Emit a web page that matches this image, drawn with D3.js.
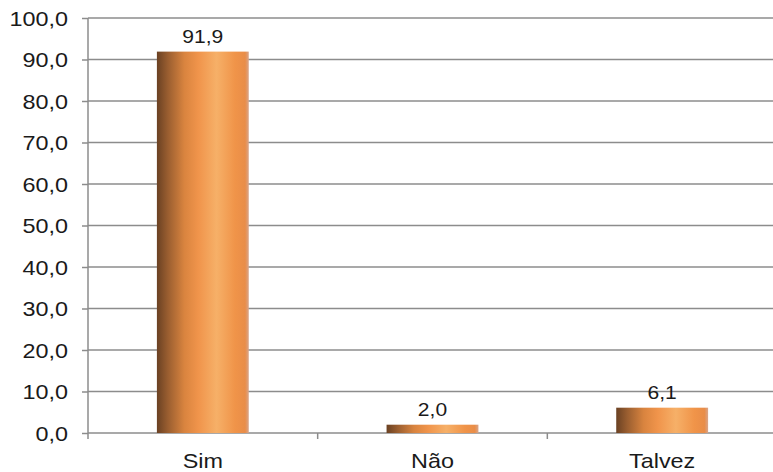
<!DOCTYPE html>
<html>
<head>
<meta charset="utf-8">
<script src="https://cdn.jsdelivr.net/npm/d3@7"></script>
<style>
  html, body { margin: 0; padding: 0; background: #fff; }
  svg text { font-family: "Liberation Sans", Arial, sans-serif; fill: #1a1a1a; }
</style>
</head>
<body>
<svg id="chart" width="773" height="472"></svg>
<script>
// Survey answers (percent)
const categories = ["Sim", "Não", "Talvez"];
const values = [91.9, 2.0, 6.1];
const yTicks = [0, 10, 20, 30, 40, 50, 60, 70, 80, 90, 100];

const svg = d3.select("#chart");
const margin = { left: 88, right: -4, top: 18, bottom: 39 };
const W = 773, H = 472;
const stretch = 1.17; // text is drawn slightly wide

const x = d3.scaleBand()
  .domain(categories)
  .range([margin.left, W - margin.right])
  .paddingInner(0.6)
  .paddingOuter(0.3);

const y = d3.scaleLinear()
  .domain([0, 100])
  .range([H - margin.bottom, margin.top]);

const fmt = v => d3.format(".1f")(v).replace(".", ",");

// Bar gradient: dark brown edge into orange with a light highlight
const defs = svg.append("defs");
const grad = defs.append("linearGradient").attr("id", "barGrad")
  .attr("x1", "0%").attr("x2", "100%").attr("y1", "0%").attr("y2", "0%");
[
  [0, "#6a4123"], [0.12, "#9a5e30"], [0.3, "#d9843f"], [0.45, "#f0944b"],
  [0.65, "#f6b068"], [0.85, "#f09449"], [0.96, "#e98d48"], [1, "#d9a58a"]
].forEach(([o, c]) => grad.append("stop").attr("offset", o).attr("stop-color", c));

// Horizontal gridlines
svg.append("g")
  .selectAll("line")
  .data(yTicks.filter(t => t > 0))
  .join("line")
  .attr("x1", margin.left).attr("x2", W)
  .attr("y1", d => y(d)).attr("y2", d => y(d))
  .attr("stroke", "#8c8c8c").attr("stroke-width", 1.5);

// Y axis
const yAxis = svg.append("g")
  .attr("transform", `translate(${margin.left},0)`)
  .call(d3.axisLeft(y).tickValues(yTicks).tickFormat(fmt).tickSize(6).tickPadding(14));
yAxis.select(".domain").attr("stroke", "#8c8c8c").attr("stroke-width", 1.5)
  .attr("d", `M0,${y(100)}V${y(0) + 6}`);
yAxis.selectAll(".tick line").attr("stroke", "#8c8c8c").attr("stroke-width", 1.5);
yAxis.selectAll(".tick text")
  .attr("font-size", 20)
  .attr("x", -20 / stretch)
  .attr("dy", "0.36em")
  .attr("transform", `scale(${stretch},1)`)
  .style("fill", "#1a1a1a");

// X axis baseline and category boundary ticks
const boundaries = d3.range(categories.length + 1)
  .map(i => margin.left + i * (W - margin.right - margin.left) / categories.length);
svg.append("line")
  .attr("x1", margin.left).attr("x2", W)
  .attr("y1", y(0)).attr("y2", y(0))
  .attr("stroke", "#8c8c8c").attr("stroke-width", 1.5);
svg.append("g").selectAll("line")
  .data(boundaries.slice(1, -1))
  .join("line")
  .attr("x1", d => d).attr("x2", d => d)
  .attr("y1", y(0)).attr("y2", y(0) + 6)
  .attr("stroke", "#8c8c8c").attr("stroke-width", 1.5);

// Category labels
svg.append("g").selectAll("text")
  .data(categories)
  .join("text")
  .attr("transform", d => `translate(${x(d) + x.bandwidth() / 2},467.5) scale(${stretch},1)`)
  .attr("text-anchor", "middle")
  .attr("font-size", 20)
  .text(d => d);

// Bars
const data = categories.map((c, i) => ({ c, v: values[i] }));
svg.append("g").selectAll("rect")
  .data(data)
  .join("rect")
  .attr("x", d => x(d.c))
  .attr("width", x.bandwidth())
  .attr("y", d => y(d.v))
  .attr("height", d => y(0) - y(d.v))
  .attr("fill", "url(#barGrad)");

// Value labels
svg.append("g").selectAll("text")
  .data(data)
  .join("text")
  .attr("transform", d => `translate(${x(d.c) + x.bandwidth() / 2},${y(d.v) - 9}) scale(${stretch},1)`)
  .attr("text-anchor", "middle")
  .attr("font-size", 18)
  .text(d => fmt(d.v));
</script>
</body>
</html>
